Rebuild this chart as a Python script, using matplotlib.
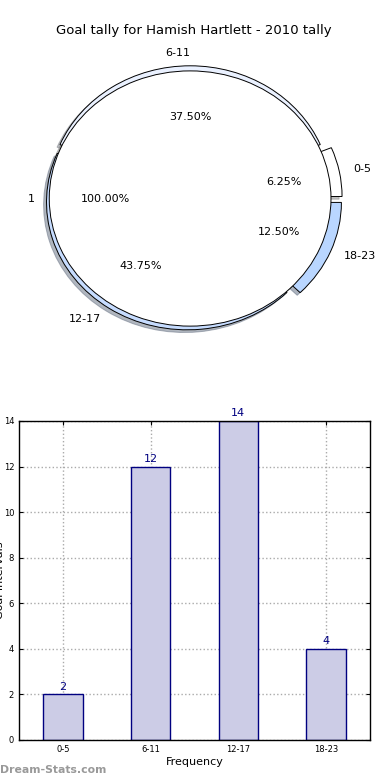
import matplotlib
matplotlib.use('agg')
import matplotlib.pyplot as plt

# data
intervals = ['0-5', '6-11', '12-17', '18-23']
goals = [2, 12, 14, 4]
pie_colors = ['#ffffff', '#eaf1ff', '#c6dcff', '#b9d6ff']
explode = [0.08, 0.04, 0.035, 0.08]
total_label = ['1']
total_value = [1]
yticks = [0, 2, 4, 6, 8, 10, 12, 14]

fig = plt.figure(figsize=(3.9, 7.8), dpi=100)

# ---- pie (two pies overlaid, old-style elliptical) ----
shadow_style = dict(ox=-0.015, oy=-0.015, shade=0.5)
axp = fig.add_axes([0.036, 0.541, 0.903, 0.409])
axp.pie(goals, labels=intervals, colors=pie_colors, explode=explode,
        autopct='%1.2f%%', shadow=shadow_style, startangle=0,
        wedgeprops=dict(edgecolor='black', linewidth=0.7),
        textprops=dict(fontsize=8))
axp.pie(total_value, labels=total_label, colors=['white'],
        autopct='%1.2f%%', shadow=shadow_style, startangle=0,
        wedgeprops=dict(edgecolor='black', linewidth=0.7),
        textprops=dict(fontsize=8))
axp.set_aspect('auto')
axp.set_xlim(-1.25, 1.25)
axp.set_ylim(-1.25, 1.25)

fig.text(0.497, 0.961, 'Goal tally for Hamish Hartlett - 2010 tally',
         ha='center', va='center', fontsize=9.5)

# ---- bar chart ----
axb = fig.add_axes([0.0487, 0.0513, 0.9, 0.409])
x = list(range(len(intervals)))
bars = axb.bar(x, goals, width=0.45, color='#ccccE6', edgecolor='#000080',
               linewidth=1, zorder=2)
for xi, g in zip(x, goals):
    axb.text(xi, g + 0.12, str(g), ha='center', va='bottom',
             color='#000080', fontsize=8)
axb.set_xlim(-0.5, 3.5)
axb.set_ylim(0, 14)
axb.set_xticks(x)
axb.set_xticklabels(intervals)
axb.set_yticks(yticks)
axb.tick_params(direction='in', labelsize=6, top=True, right=True,
                length=3, width=0.8)
axb.grid(True, linestyle=':', color='#aaaaaa', linewidth=1, zorder=0)
axb.set_axisbelow(True)
for s in axb.spines.values():
    s.set_linewidth(1)
axb.set_xlabel('Frequency', fontsize=8, labelpad=2)

# y label is clipped at the left edge in the original
fig.text(-0.012, 0.256, 'Goal Intervals', rotation=90, ha='left',
         va='center', fontsize=8)
fig.text(0.0, 0.013, 'Dream-Stats.com', ha='left', va='center',
         fontsize=7.8, color='#999999', fontweight='bold')

fig.savefig('out.png', dpi=100)
